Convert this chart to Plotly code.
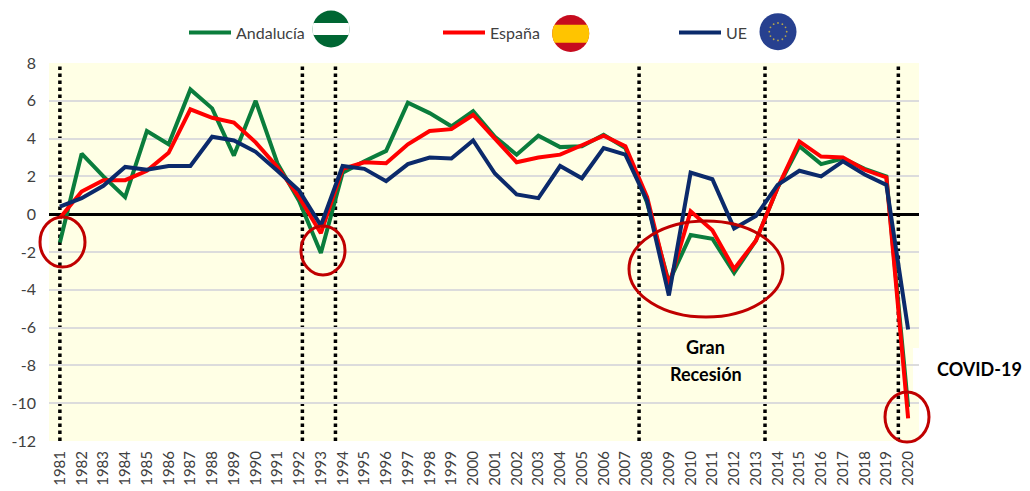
import numpy as np
import plotly.graph_objects as go

years = list(range(1981, 2021))
andalucia = [-1.5, 3.2, 2.0, 0.9, 4.4, 3.7, 6.6, 5.6, 3.1, 6.0, 2.7, 0.7, -2.05, 2.2, 2.8, 3.35, 5.9, 5.35, 4.65, 5.45,
             4.1, 3.15, 4.15, 3.55, 3.6, 4.2, 3.5, 0.6, -3.6, -1.1, -1.3, -3.1, -1.4, 1.4, 3.6, 2.65, 2.95, 2.4, 2.0, -10.2]
espana = [-0.2, 1.2, 1.8, 1.8, 2.3, 3.25, 5.55, 5.1, 4.85, 3.8, 2.5, 0.9, -1.0, 2.4, 2.75, 2.7, 3.7, 4.4, 4.5, 5.25,
          4.0, 2.75, 3.0, 3.15, 3.65, 4.15, 3.6, 0.9, -3.75, 0.15, -0.85, -2.9, -1.4, 1.4, 3.85, 3.05, 3.0, 2.35, 1.95, -10.8]
ue = [0.4, 0.85, 1.5, 2.5, 2.35, 2.55, 2.55, 4.1, 3.9, 3.3, 2.3, 1.25, -0.6, 2.55, 2.4, 1.75, 2.65, 3.0, 2.95, 3.9,
      2.15, 1.05, 0.85, 2.55, 1.9, 3.5, 3.15, 0.7, -4.3, 2.2, 1.85, -0.75, -0.1, 1.55, 2.3, 2.0, 2.8, 2.1, 1.55, -6.1]
y_ticks = [8, 6, 4, 2, 0, -2, -4, -6, -8, -10, -12]
period_lines = [1981, 1992.15, 1993.67, 2007.63, 2013.42, 2019.55]

W, H = 1030, 491
L, R, T, B = 49, 919, 63, 441
FONT = "Lato"
GREEN, RED, NAVY, RING = "#0a7d3c", "#ff0000", "#0b2a6b", "#c00000"


def px(x):
    return (x - L) / (R - L)


def py(y):
    return (B - y) / (B - T)


def segment(cx, cy, r, y0, y1):
    """Closed polygon for the slice of a circle between two pixel rows."""
    a0 = np.arcsin((y0 - cy) / r)
    a1 = np.arcsin((y1 - cy) / r)
    ang = np.concatenate([np.linspace(a0, a1, 24), np.linspace(np.pi - a1, np.pi - a0, 24)])
    pts = [(px(cx + r * np.cos(a)), py(cy + r * np.sin(a))) for a in ang]
    return "M" + "L".join(f"{a:.5f},{b:.5f}" for a, b in pts) + "Z"


def disc(cx, cy, r, color):
    return dict(type="circle", xref="paper", yref="paper", x0=px(cx - r), x1=px(cx + r), y0=py(cy + r), y1=py(cy - r),
                fillcolor=color, line=dict(width=0), layer="above")


def band(cx, cy, r, y0, y1, color):
    return dict(type="path", xref="paper", yref="paper", path=segment(cx, cy, r, y0, y1), fillcolor=color,
                line=dict(width=0), layer="above")


def ring(x0, x1, y0, y1):
    return dict(type="circle", xref="paper", yref="paper", x0=px(x0), x1=px(x1), y0=py(y1), y1=py(y0),
                line=dict(color=RING, width=3), fillcolor="rgba(0,0,0,0)", layer="above")


def label(text, x, y, xanchor="center"):
    return dict(text=f"<b>{text}</b>", xref="paper", yref="paper", x=px(x), y=py(y), showarrow=False,
                font=dict(family=FONT, size=18, color="#000000"), xanchor=xanchor, yanchor="middle")


fig = go.Figure()
for name, vals, color, lg in [("Andalucía", andalucia, GREEN, "legend"),
                              ("España", espana, RED, "legend2"),
                              ("UE", ue, NAVY, "legend3")]:
    fig.add_trace(go.Scatter(x=years, y=vals, name=name, mode="lines", legend=lg,
                             line=dict(color=color, width=4, shape="linear")))

shapes = []
# text-box patches
shapes.append(dict(type="rect", xref="paper", yref="paper", x0=px(649), x1=px(764), y0=py(412), y1=py(322),
                   fillcolor="#ffffe5", line=dict(width=0), layer="below"))
shapes.append(dict(type="rect", xref="paper", yref="paper", x0=px(913), x1=px(920), y0=py(392), y1=py(348),
                   fillcolor="#ffffff", line=dict(width=0), layer="below"))
for x in period_lines:
    shapes.append(dict(type="line", xref="x", yref="paper", x0=x, x1=x, y0=0, y1=1,
                       line=dict(color="#000000", width=3.5, dash="3.5px,3.5px"), layer="below"))
shapes += [ring(40, 85, 217, 267), ring(301, 345, 226, 275), ring(629, 783, 221, 317), ring(885, 929, 392, 442)]
# flags
shapes += [disc(331, 29, 18.5, "#006633"), band(331, 29, 18.5, 23, 35, "#ffffff")]
shapes += [disc(570.7, 33.5, 18.5, "#c60b1e"), band(570.7, 33.5, 18.5, 24.7, 42.7, "#ffc400")]
shapes += [disc(778, 31.7, 18.5, "#27408f")]
for k in range(12):
    t = 2 * np.pi * k / 12
    shapes.append(disc(778 + 8.7 * np.cos(t), 31.7 + 8.7 * np.sin(t), 0.9, "#b7a54a"))

annotations = [label("Gran", 705.5, 347), label("Recesión", 705.5, 374), label("COVID-19", 935, 369, "left")]


def legend_at(lx):
    return dict(xref="container", yref="container", x=lx / W, y=1 - 32.5 / H, xanchor="left", yanchor="middle",
                orientation="h", bgcolor="rgba(0,0,0,0)",
                itemwidth=42, font=dict(family=FONT, size=16, color="#404040"), itemclick=False, itemdoubleclick=False)


fig.update_layout(
    width=W, height=H, autosize=False, margin=dict(l=L, r=W - R, t=T, b=H - B),
    paper_bgcolor="#ffffff", plot_bgcolor="#ffffe5", font=dict(family=FONT, color="#404040"),
    shapes=shapes, annotations=annotations, showlegend=True,
    legend=legend_at(184), legend2=legend_at(438), legend3=legend_at(674),
    xaxis=dict(range=[1980.5, 2020.5], tickmode="array", tickvals=years, ticktext=[str(y) for y in years],
               tickangle=-90, showgrid=False, zeroline=False, ticks="", ticklabelstandoff=6, automargin=False,
               tickfont=dict(family=FONT, size=15, color="#404040")),
    yaxis=dict(range=[-12, 8], tickmode="array", tickvals=y_ticks, ticktext=[str(v) for v in y_ticks],
               showgrid=True, gridcolor="#dcdcdc", gridwidth=2, zeroline=True, zerolinecolor="#000000", zerolinewidth=2.5,
               ticks="", ticklabelstandoff=12, automargin=False, tickfont=dict(family=FONT, size=16, color="#404040")),
)
fig.write_html("out.html", config={"displayModeBar": False},
               post_script="document.body.style.margin='0';")
